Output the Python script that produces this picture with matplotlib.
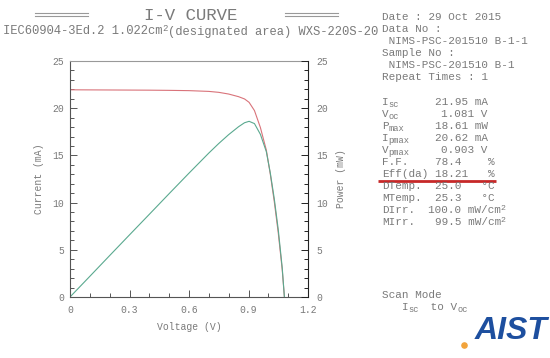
import matplotlib.pyplot as plt
from matplotlib.ticker import MultipleLocator

voltage = [0.0, 0.1, 0.2, 0.3, 0.4, 0.5, 0.6, 0.7, 0.75, 0.8, 0.85, 0.88, 0.903,
           0.93, 0.96, 0.99, 1.01, 1.03, 1.05, 1.07, 1.081]
current = [21.95, 21.94, 21.93, 21.92, 21.91, 21.89, 21.86, 21.78, 21.68, 21.50, 21.22,
           20.98, 20.62, 19.75, 17.95, 15.55, 13.00, 10.10, 6.80, 2.90, 0.0]
power = [0.0, 2.19, 4.39, 6.58, 8.76, 10.95, 13.12, 15.25, 16.26, 17.20, 18.04,
         18.46, 18.61, 18.37, 17.23, 15.39, 13.13, 10.40, 7.14, 3.10, 0.0]

header_lines = ["Date : 29 Oct 2015", "Data No :", " NIMS-PSC-201510 B-1-1",
                "Sample No :", " NIMS-PSC-201510 B-1", "Repeat Times : 1"]
param_names = [("I", "sc"), ("V", "oc"), ("P", "max"), ("I", "pmax"), ("V", "pmax"),
               ("F.F.", ""), ("Eff(da)", ""), ("DTemp.", ""), ("MTemp.", ""),
               ("DIrr.", ""), ("MIrr.", "")]
param_values = ["21.95 mA", "1.081 V", "18.61 mW", "20.62 mA", "0.903 V",
                "78.4    %", "18.21   %", "25.0   \u00b0C", "25.3   \u00b0C",
                "100.0 mW/cm", "99.5 mW/cm"]

MONO = "Liberation Mono"
GRAY = "#7a7a7a"

fig = plt.figure(figsize=(5.5, 3.58), dpi=100)

# overlay in pixel coordinates for the text panel
ov = fig.add_axes([0, 0, 1, 1])
ov.set_xlim(0, 550)
ov.set_ylim(358, 0)
ov.axis("off")


def cw(size):
    # width of one monospace character in pixels
    return size * 0.6 * 100 / 72


def put(x, y, s, size=7.9, sub="", sup="", color=GRAY):
    ov.text(x, y, s, fontsize=size, family=MONO, color=color, va="baseline", ha="left")
    x2 = x + len(s) * cw(size)
    if sub:
        ov.text(x2, y + 2, sub, fontsize=size * 0.8, family=MONO, color=color,
                va="baseline", ha="left")
    if sup:
        ov.text(x2, y - 3.5, sup, fontsize=size * 0.75, family=MONO, color=color,
                va="baseline", ha="left")
    return x2


# title block
ov.text(191, 15, "I-V CURVE", fontsize=12.5, family=MONO, color=GRAY, ha="center", va="center")
for x0, x1 in [(35, 88), (285, 338)]:
    ov.plot([x0, x1], [12.5, 12.5], color="#999999", lw=0.8)
    ov.plot([x0, x1], [15.5, 15.5], color="#999999", lw=0.8)
xe = put(3, 34.5, "IEC60904-3Ed.2 1.022cm", size=8.7, sup="2")
put(xe + cw(8.7 * 0.75), 34.5, "(designated area) WXS-220S-20", size=8.7)

# info panel, values aligned on the decimal point (column 10)
x_lab = 382
for i, s in enumerate(header_lines):
    put(x_lab, 19.5 + 12 * i, s)
for i, ((main, sub), val) in enumerate(zip(param_names, param_values)):
    yb = 105 + 12 * i
    put(x_lab, yb, main, sub=sub)
    col = 10 - val.index(".")
    put(x_lab + col * cw(7.9), yb, val, sup="2" if val.endswith("cm") else "")
ov.plot([378, 496], [181, 181], color="#c62828", lw=2.0, solid_capstyle="butt")

put(x_lab, 298.5, "Scan Mode")
xe = put(x_lab + 3 * cw(7.9), 310.5, "I", sub="sc")
put(xe + 3 * cw(7.9 * 0.8), 310.5, " to V", sub="oc")

# AIST logo
ov.text(475, 339, "AIST", fontsize=23, family="Liberation Sans", weight="bold",
        style="italic", color="#1d4f9f", ha="left", va="baseline")
ov.scatter([464], [345], s=14, color="#f2a33a", zorder=3)

# main plot
ax = fig.add_axes([70 / 550, 1 - 297 / 358, 238 / 550, 236 / 358])
ax.plot(voltage, current, color="#d9737a", lw=0.8)
ax.plot(voltage, power, color="#5aa98f", lw=0.8)
ax.set_xlim(0, 1.2)
ax.set_ylim(0, 25)
ax.set_xticks([0, 0.3, 0.6, 0.9, 1.2])
ax.set_xticklabels(["0", "0.3", "0.6", "0.9", "1.2"])
ax.xaxis.set_minor_locator(MultipleLocator(0.1))
ax.yaxis.set_major_locator(MultipleLocator(5))
ax.yaxis.set_minor_locator(MultipleLocator(1))
ax.tick_params(which="both", direction="in", colors="#555555", labelcolor=GRAY,
               labelsize=7, width=0.7)
ax.tick_params(which="major", length=5)
ax.tick_params(which="minor", length=3)
ax.tick_params(axis="x", pad=6)
ax.tick_params(axis="y", pad=4)
for lab in ax.get_xticklabels() + ax.get_yticklabels():
    lab.set_family(MONO)
for side in ["left", "bottom"]:
    ax.spines[side].set_color("#555555")
ax.spines["top"].set_color("#999999")
ax.spines["right"].set_visible(False)
ax.set_xlabel("Voltage (V)", family=MONO, fontsize=7, color=GRAY, labelpad=5)
ax.set_ylabel("Current (mA)", family=MONO, fontsize=7, color=GRAY, labelpad=6)

ax2 = ax.twinx()
ax2.set_ylim(0, 25)
ax2.yaxis.set_major_locator(MultipleLocator(5))
ax2.yaxis.set_minor_locator(MultipleLocator(1))
ax2.tick_params(which="both", direction="in", colors="#222222", labelcolor=GRAY,
                labelsize=7, width=0.7, pad=6)
ax2.tick_params(which="major", length=5)
ax2.tick_params(which="minor", length=3)
for lab in ax2.get_yticklabels():
    lab.set_family(MONO)
for side in ["left", "bottom", "top"]:
    ax2.spines[side].set_visible(False)
ax2.spines["right"].set_color("#222222")
ax2.set_ylabel("Power (mW)", family=MONO, fontsize=7, color=GRAY, labelpad=6)

fig.savefig("out.png", dpi=100)
